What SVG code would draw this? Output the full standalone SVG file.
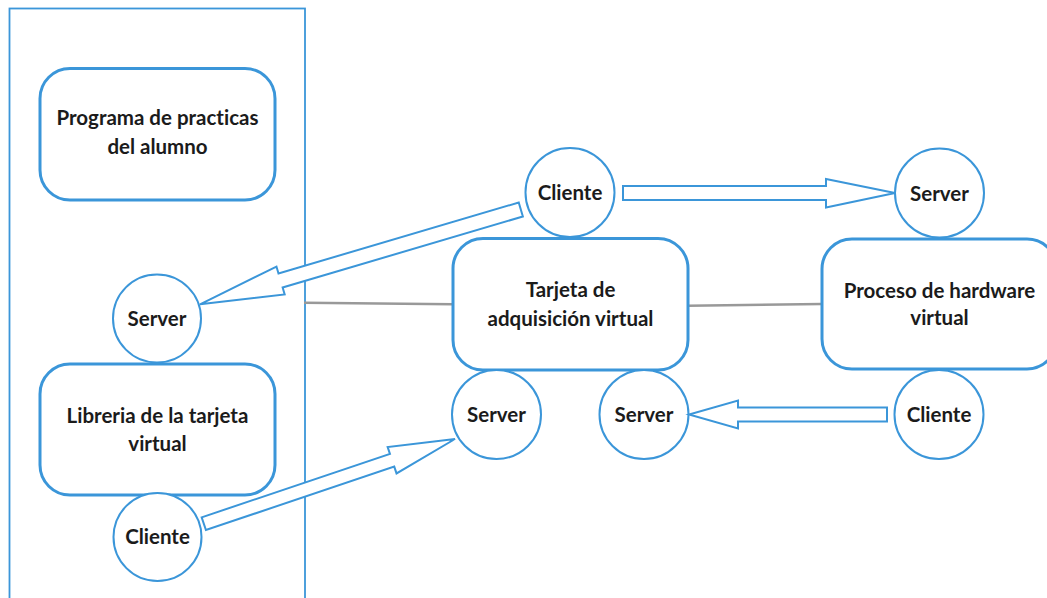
<svg xmlns="http://www.w3.org/2000/svg" width="1047" height="598" viewBox="0 0 1047 598">
  <style>
    .box { fill: #ffffff; stroke: #3b96d9; stroke-width: 3; }
    .port { fill: #ffffff; stroke: #3b96d9; stroke-width: 2; }
    .frame { fill: none; stroke: #3b96d9; stroke-width: 1.8; }
    .flow { fill: #ffffff; stroke: #3b96d9; stroke-width: 2; stroke-linejoin: miter; }
    .link { fill: none; stroke: #999999; stroke-width: 2.5; }
    text { font-family: Lato, "Open Sans", "Liberation Sans", sans-serif; font-weight: bold; font-size: 20.5px; fill: #1b1b1b; text-anchor: middle; font-variant-ligatures: none; }
  </style>

  <!-- process boundary -->
  <rect class="frame" x="9.5" y="8.5" width="295.5" height="600"/>

  <!-- plain links between components -->
  <g id="links">
    <path class="link" d="M304 302.7 L453 304.3"/>
    <path class="link" d="M688 305.7 L822 304"/>
  </g>

  <g id="programa">
    <rect class="box" x="40" y="68.5" width="235" height="131.5" rx="30"/>
    <text x="157.5" y="124.5">Programa de practicas</text>
    <text x="157.5" y="153.5">del alumno</text>
  </g>

  <g id="libreria">
    <rect class="box" x="40" y="364" width="235" height="131" rx="30"/>
    <text x="157.5" y="422.5">Libreria de la tarjeta</text>
    <text x="157.5" y="451">virtual</text>
  </g>

  <g id="tarjeta">
    <rect class="box" x="453" y="238.5" width="235" height="131.5" rx="30"/>
    <text x="570.5" y="297">Tarjeta de</text>
    <text x="570.5" y="325.5">adquisición virtual</text>
  </g>

  <g id="proceso">
    <rect class="box" x="822" y="239" width="235" height="130" rx="30"/>
    <text x="939.5" y="297.5">Proceso de hardware</text>
    <text x="939.5" y="325">virtual</text>
  </g>

  <g id="server-libreria">
    <circle class="port" cx="157" cy="318.5" r="44"/>
    <text x="157" y="326">Server</text>
  </g>

  <g id="cliente-libreria">
    <circle class="port" cx="157.5" cy="537" r="44"/>
    <text x="157.5" y="543.5">Cliente</text>
  </g>

  <g id="cliente-tarjeta">
    <circle class="port" cx="570" cy="192.5" r="44.5"/>
    <text x="570" y="200">Cliente</text>
  </g>

  <g id="server-tarjeta-a">
    <circle class="port" cx="496.5" cy="414.5" r="44.5"/>
    <text x="496.5" y="422">Server</text>
  </g>

  <g id="server-tarjeta-b">
    <circle class="port" cx="644" cy="414.5" r="44.5"/>
    <text x="644" y="422">Server</text>
  </g>

  <g id="server-proceso">
    <circle class="port" cx="939.5" cy="193" r="44.5"/>
    <text x="939.5" y="200.5">Server</text>
  </g>

  <g id="cliente-proceso">
    <circle class="port" cx="939" cy="414.5" r="44.5"/>
    <text x="939" y="422">Cliente</text>
  </g>

  <!-- hollow block arrows: client to server -->
  <g id="connectors">
    <polygon class="flow" points="623,186 826,186 826,179 895,193 826,207.5 826,200 623,200"/>
    <polygon class="flow" transform="translate(520.8 209.5) rotate(163.54)" points="0,-7.3 250.5,-7.3 250.5,-14.5 334.5,0 250.5,14.5 250.5,7.3 0,7.3"/>
    <polygon class="flow" transform="translate(203.8 523.7) rotate(-18.63)" points="0,-6.7 198.7,-6.7 198.7,-13.9 265.1,0 198.7,13.9 198.7,6.7 0,6.7"/>
    <polygon class="flow" points="887,407.5 738,407.5 738,400.5 689,414.5 738,428.5 738,421.5 887,421.5"/>
  </g>
</svg>
